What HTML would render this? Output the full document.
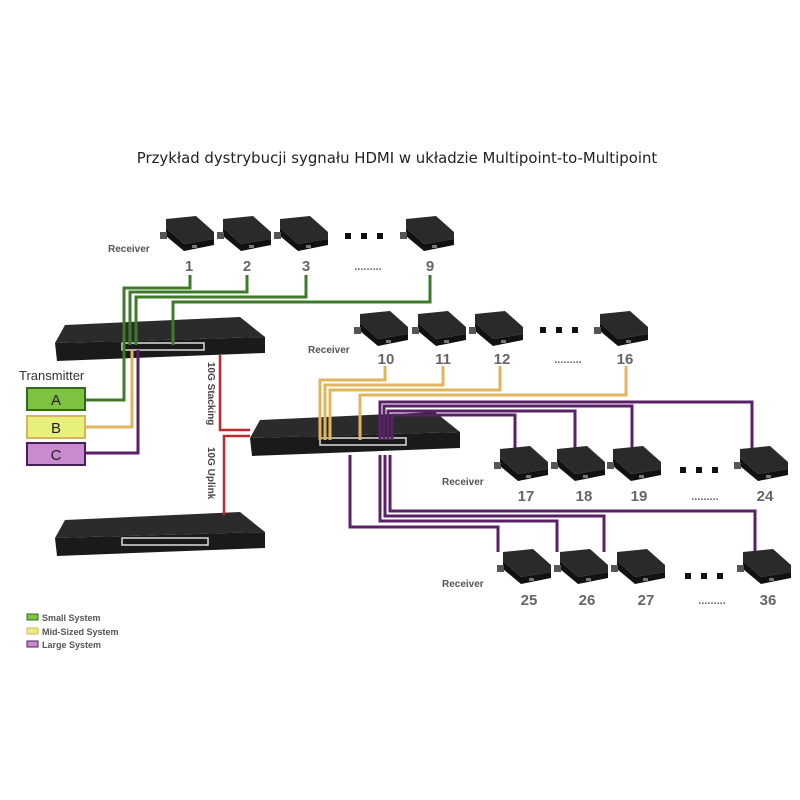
<!DOCTYPE html>
<html><head><meta charset="utf-8"><style>
body{margin:0;background:#fff}
svg{display:block}
text{font-family:"Liberation Sans",sans-serif}
</style></head><body>
<svg width="800" height="800" viewBox="0 0 800 800" xmlns="http://www.w3.org/2000/svg">
<defs>
<g id="rx">
<polygon points="-22,-16 8,-19 26,-3 26,4 -4,9 -22,-7" fill="#2a2a2a"/>
<polygon points="-22,-7 -4,9 26,4 26,10 -4,16 -22,1" fill="#111"/>
<rect x="-28" y="-3" width="7" height="7" fill="#555"/>
<rect x="4" y="10" width="5" height="3" fill="#777"/>
</g>
<g id="sw">
<polygon points="10,0 185,-8 210,12 0,18" fill="#2b2b2b"/>
<polygon points="0,18 210,12 210,28 2,36" fill="#1a1a1a"/>
</g>
</defs>
<text x="397" y="163" font-size="14.9" text-anchor="middle" fill="#222" style="font-family:'DejaVu Sans',sans-serif">Przykład dystrybucji sygnału HDMI w układzie Multipoint-to-Multipoint</text>

<use href="#sw" transform="translate(55,325)"/>
<use href="#sw" transform="translate(250,420)"/>
<use href="#sw" transform="translate(55,520)"/>
<g fill="none" stroke="#ddd" stroke-width="1.5">
<rect x="122" y="343" width="82" height="7"/>
<rect x="320" y="438" width="86" height="7"/>
<rect x="122" y="538" width="86" height="7"/>
</g>

<g fill="none" stroke="#3f7a2a" stroke-width="3">
<path d="M190 275V288H124V400H86"/>
<path d="M247 275V292H130V345"/>
<path d="M306 275V297H136V345"/>
<path d="M430 275V302H173V345"/>
</g>
<g fill="none" stroke="#e0b55c" stroke-width="3">
<path d="M132 350V427H86"/>
<path d="M385 366V380H320V440"/>
<path d="M443 366V385H325V440"/>
<path d="M500 366V390H330V440"/>
<path d="M626 366V395H360V440"/>
</g>
<g fill="none" stroke="#5a2068" stroke-width="3">
<path d="M138 350V453H86"/>
<path d="M380 440V402H752V450"/>
<path d="M384 440V406H632V450"/>
<path d="M388 440V411H575V450"/>
<path d="M392 440V415H515V450"/>
<path d="M350 455V527H498V552"/>
<path d="M380 455V521H557V552"/>
<path d="M385 455V516H604V552"/>
<path d="M390 455V511H755V552"/>
</g>
<g fill="none" stroke="#c0282d" stroke-width="2.5">
<path d="M220 355V430H250"/>
<path d="M250 436H224V515"/>
</g>
<text transform="translate(208,362) rotate(90)" font-size="10" font-weight="bold" fill="#444">10G Stacking</text>
<text transform="translate(208,447) rotate(90)" font-size="10" font-weight="bold" fill="#444">10G Uplink</text>

<use href="#rx" transform="translate(188,235)"/><use href="#rx" transform="translate(245,235)"/><use href="#rx" transform="translate(302,235)"/><use href="#rx" transform="translate(428,235)"/>
<use href="#rx" transform="translate(382,330)"/><use href="#rx" transform="translate(440,330)"/><use href="#rx" transform="translate(497,330)"/><use href="#rx" transform="translate(622,330)"/>
<use href="#rx" transform="translate(522,465)"/><use href="#rx" transform="translate(579,465)"/><use href="#rx" transform="translate(635,465)"/><use href="#rx" transform="translate(762,465)"/>
<use href="#rx" transform="translate(525,568)"/><use href="#rx" transform="translate(582,568)"/><use href="#rx" transform="translate(639,568)"/><use href="#rx" transform="translate(765,568)"/>
<g fill="#111"><rect x="345" y="233" width="6" height="6"/><rect x="361" y="233" width="6" height="6"/><rect x="377" y="233" width="6" height="6"/>
<rect x="540" y="327" width="6" height="6"/><rect x="556" y="327" width="6" height="6"/><rect x="572" y="327" width="6" height="6"/>
<rect x="680" y="467" width="6" height="6"/><rect x="696" y="467" width="6" height="6"/><rect x="712" y="467" width="6" height="6"/>
<rect x="685" y="573" width="6" height="6"/><rect x="701" y="573" width="6" height="6"/><rect x="717" y="573" width="6" height="6"/></g>

<g font-size="15" font-weight="bold" fill="#666" text-anchor="middle">
<text x="189" y="271">1</text><text x="247" y="271">2</text><text x="306" y="271">3</text><text x="430" y="271">9</text><text x="368" y="270" font-size="11">.........</text>
<text x="386" y="364">10</text><text x="443" y="364">11</text><text x="502" y="364">12</text><text x="625" y="364">16</text><text x="568" y="363" font-size="11">.........</text>
<text x="526" y="501">17</text><text x="584" y="501">18</text><text x="639" y="501">19</text><text x="765" y="501">24</text><text x="705" y="500" font-size="11">.........</text>
<text x="529" y="605">25</text><text x="587" y="605">26</text><text x="646" y="605">27</text><text x="768" y="605">36</text><text x="712" y="604" font-size="11">.........</text>
</g>
<g font-size="10" font-weight="bold" fill="#555">
<text x="108" y="252">Receiver</text><text x="308" y="353">Receiver</text><text x="442" y="485">Receiver</text><text x="442" y="587">Receiver</text>
</g>
<text x="19" y="380" font-size="13" fill="#333">Transmitter</text>
<rect x="27" y="388" width="58" height="22" fill="#7fc241" stroke="#2f6b1e" stroke-width="2"/>
<rect x="27" y="416" width="58" height="22" fill="#e6f07a" stroke="#d8b45a" stroke-width="2"/>
<rect x="27" y="443" width="58" height="22" fill="#c98ad0" stroke="#4b1e5c" stroke-width="2"/>
<g font-size="15" text-anchor="middle" fill="#222"><text x="56" y="405">A</text><text x="56" y="433">B</text><text x="56" y="460">C</text></g>

<rect x="27" y="614" width="11" height="6" fill="#7fc241" stroke="#2f6b1e"/>
<rect x="27" y="628" width="11" height="6" fill="#e6f07a" stroke="#d8b45a"/>
<rect x="27" y="641" width="11" height="6" fill="#c98ad0" stroke="#4b1e5c"/>
<g font-size="9" font-weight="bold" fill="#555"><text x="42" y="621">Small System</text><text x="42" y="635">Mid-Sized System</text><text x="42" y="648">Large System</text></g>
</svg>
</body></html>
